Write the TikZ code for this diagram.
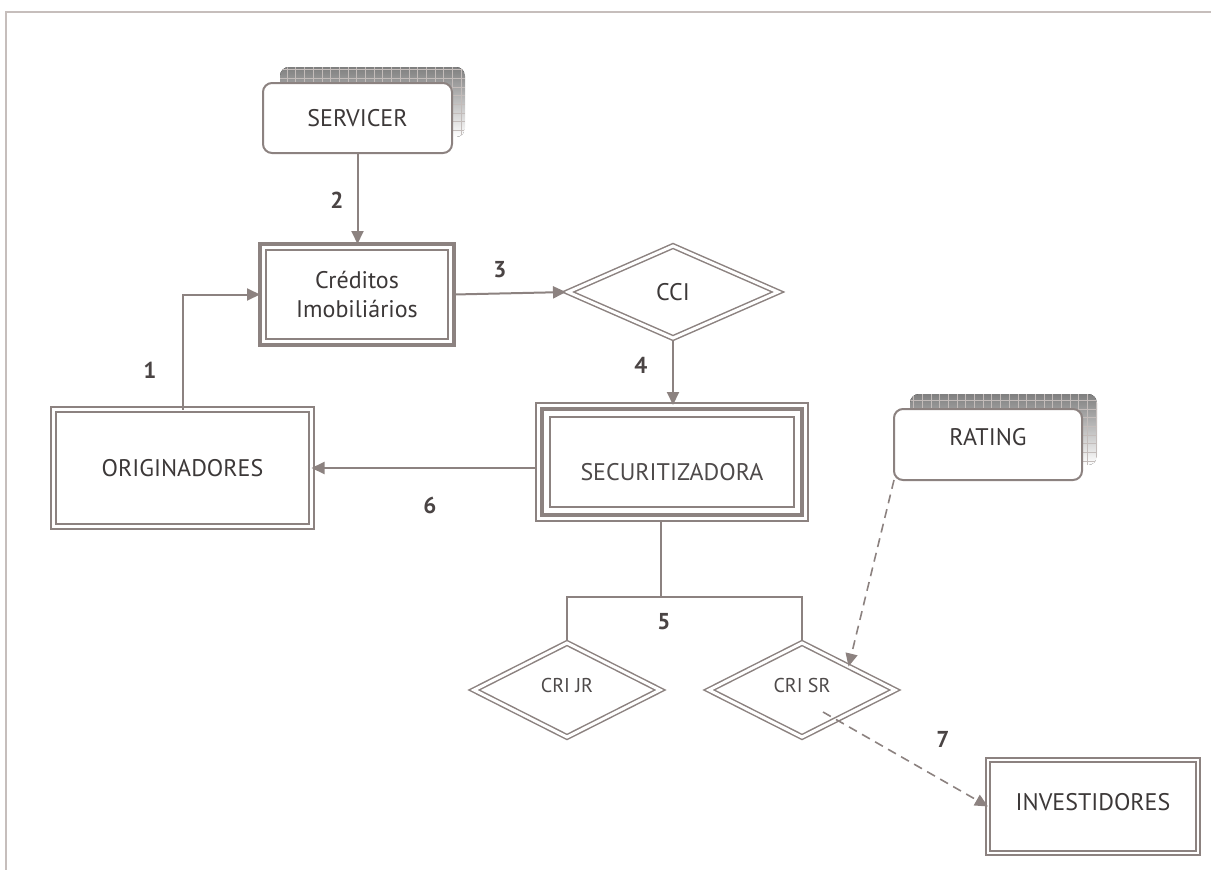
\documentclass[tikz,border=0pt]{standalone}
\usepackage{fontspec}
\setmainfont{PT Sans}
\usetikzlibrary{shapes.geometric,arrows.meta,backgrounds}

\definecolor{edge}{HTML}{8C8280}
\definecolor{ink}{HTML}{3C3838}
\definecolor{softink}{HTML}{4E4A4A}
\definecolor{numink}{HTML}{4A4444}
\definecolor{framec}{HTML}{C6BEBC}
\definecolor{shade}{HTML}{AAA2A0}
\definecolor{hatch}{HTML}{C3BCBA}

\tikzset{
  x=1pt, y=-1pt,
  every node/.style={font=\fontsize{24}{28.5}\selectfont, text=ink, inner sep=0pt, outer sep=0pt},
  roundbox/.style={draw=edge, line width=2pt, rounded corners=9pt, fill=white},
  heavybox/.style={draw=edge, line width=4.2pt, fill=white},
  triplebox/.style={draw=edge, line width=1.6pt, fill=white},
  twinbox/.style={draw=edge, line width=2pt, double=white, double distance=2.6pt},
  twindiamond/.style={diamond, draw=edge, line width=1.5pt, double=white, double distance=3pt},
  num/.style={font=\fontsize{23}{26}\selectfont\bfseries, text=numink},
  wire/.style={draw=edge, line width=2pt},
  arrow/.style={wire, -{Triangle[length=13pt,width=12pt]}},
  dasharrow/.style={draw=edge, line width=1.6pt, dash pattern=on 9pt off 6pt,
                    -{Triangle[length=13pt,width=12pt]}},
}

\begin{document}
\begin{tikzpicture}
  \useasboundingbox (0,0) rectangle (1211,870);

  % page frame
  \draw[framec, line width=2pt] (6,870) -- (6,12) -- (1211,12);

  % boxes
  \node[roundbox, minimum width=189pt, minimum height=70pt] (srv) at (357.5,118) {SERVICER};
  \node[roundbox, minimum width=188pt, minimum height=71pt, text height=2pt, text depth=0pt] (rat) at (988,444.5) {RATING};

  \node[heavybox, minimum width=194pt, minimum height=101pt, align=center] (cred) at (357,294.5) {Créditos\\Imobiliários};
  \draw[edge, line width=1.6pt] ([shift={(6pt,-6pt)}]cred.north west) rectangle ([shift={(-6pt,6pt)}]cred.south east);

  \node[twindiamond, minimum width=210pt, minimum height=92pt, text height=17pt, text depth=0pt] (cci) at (673,292) {CCI};

  \node[triplebox, minimum width=272pt, minimum height=118pt, text=softink, text height=37pt, text depth=0pt] (sec) at (672,462) {SECURITIZADORA};
  \draw[edge, line width=3.6pt] ([shift={(6pt,-6pt)}]sec.north west) rectangle ([shift={(-6pt,6pt)}]sec.south east);
  \draw[edge, line width=1.6pt] ([shift={(14pt,-14pt)}]sec.north west) rectangle ([shift={(-14pt,14pt)}]sec.south east);

  \node[twinbox, minimum width=258pt, minimum height=117pt, text height=17pt, text depth=0pt] (orig) at (182.5,468) {ORIGINADORES};

  \node[twindiamond, minimum width=186pt, minimum height=94pt, font=\fontsize{20}{24}\selectfont, text=softink, text height=5pt, text depth=0pt] (jr) at (567,690) {CRI JR};
  \node[twindiamond, minimum width=186pt, minimum height=94pt, font=\fontsize{20}{24}\selectfont, text=softink, text height=5pt, text depth=0pt] (sr) at (802,690) {CRI SR};

  \node[draw=edge, line width=1.5pt, double=white, double distance=2.4pt, minimum width=210pt, minimum height=93pt, text height=8pt, text depth=0pt] (inv) at (1093,806.5) {INVESTIDORES};

  % hatched shadows behind the rounded boxes
  \begin{scope}[on background layer]
    \begin{scope}
      \path[clip, rounded corners=9pt] ([shift={(17pt,16pt)}]srv.south west) rectangle ([shift={(13pt,16pt)}]srv.north east);
      \fill[shade] ([shift={(17pt,16pt)}]srv.south west) rectangle ([shift={(13pt,16pt)}]srv.north east);
      \draw[hatch, line width=0.7pt, step=8.7pt] ([shift={(17pt,16pt)}]srv.south west) grid ([shift={(13pt,16pt)}]srv.north east);
    \end{scope}
    \begin{scope}
      \path[clip, rounded corners=9pt] ([shift={(16pt,15pt)}]rat.south west) rectangle ([shift={(15pt,15pt)}]rat.north east);
      \fill[shade] ([shift={(16pt,15pt)}]rat.south west) rectangle ([shift={(15pt,15pt)}]rat.north east);
      \draw[hatch, line width=0.7pt, step=8.7pt] ([shift={(16pt,15pt)}]rat.south west) grid ([shift={(15pt,15pt)}]rat.north east);
    \end{scope}
  \end{scope}

  % connectors
  \draw[arrow] (srv.south) -- (srv.south |- cred.north);
  \draw[arrow] (orig.north) |- (cred.west);
  \draw[arrow, shorten >=2pt] (cred.east) -- (cci.west);
  \draw[arrow] ([yshift=-2pt]cci.south) -- ([yshift=-2pt]cci.south |- sec.north);
  \draw[arrow] ([yshift=-6pt]sec.west) -- ([yshift=-6pt]sec.west -| orig.east);

  \coordinate (fork) at (661,597);
  \draw[wire] (fork |- sec.south) -- (fork);
  \draw[wire] ([yshift=3pt]jr.north) -- (jr.north |- fork) -- (sr.north |- fork) -- ([yshift=3pt]sr.north);

  \draw[dasharrow] (rat.south west) -- (sr.north east);
  \coordinate (srout) at ([shift={(21pt,-22pt)}]sr.center);
  \draw[dasharrow] (srout) -- (inv.west);

  % step numbers
  \node[num] (n1) at (150,370) {1};
  \node[num] (n2) at (337,200) {2};
  \node[num] (n3) at (500,270) {3};
  \node[num] (n4) at (641,365) {4};
  \node[num] (n5) at (664,622) {5};
  \node[num] (n6) at (430,505) {6};
  \node[num] (n7) at (943,739) {7};
\end{tikzpicture}
\end{document}
